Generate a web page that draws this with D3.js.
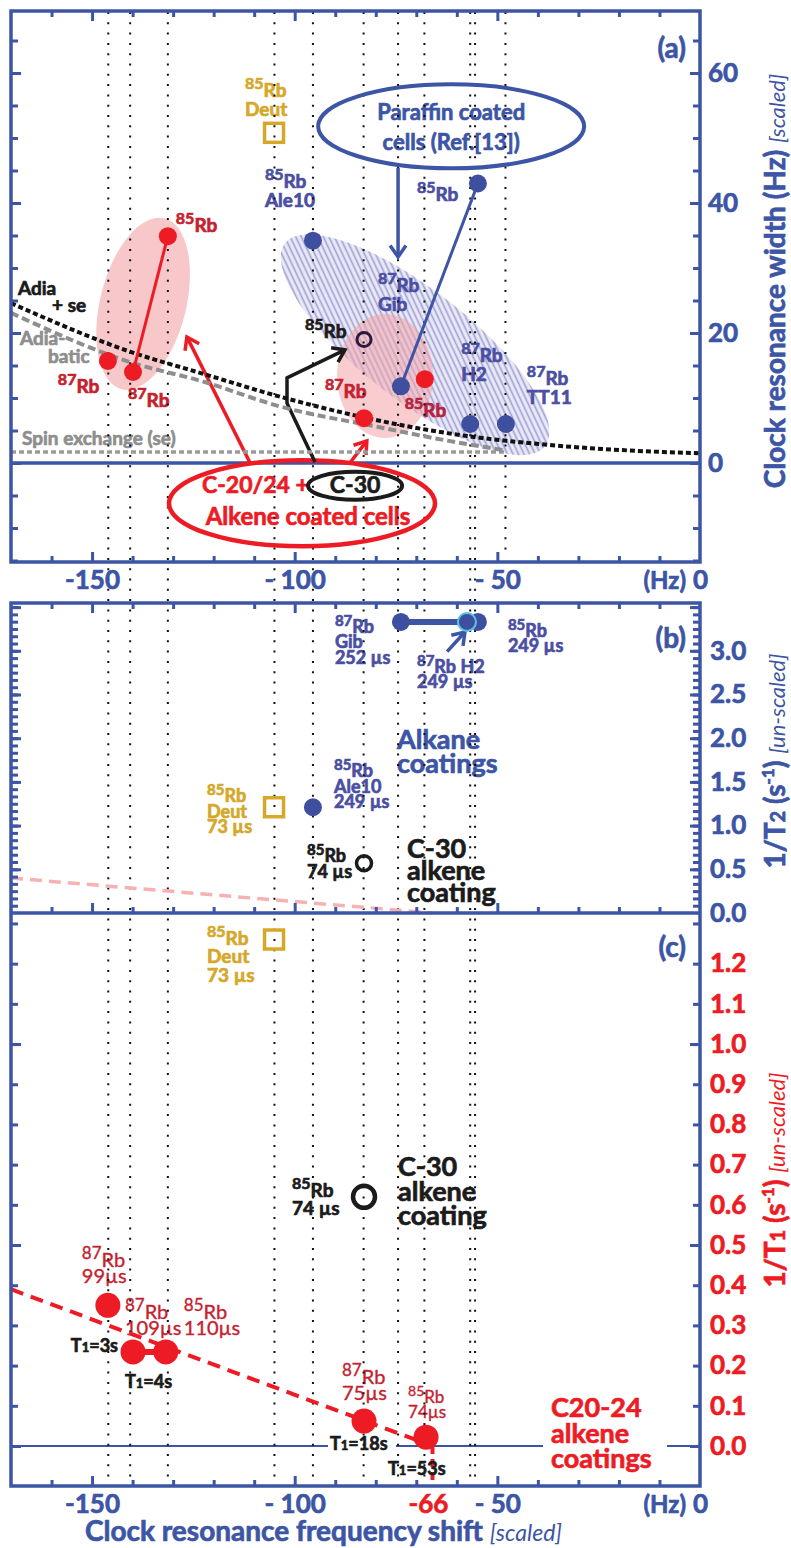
<!DOCTYPE html>
<html><head><meta charset="utf-8">
<script src="https://cdn.jsdelivr.net/npm/d3@7"></script>
<style>
body{margin:0;background:#fff;}
svg{display:block;font-family:Lato,"Open Sans",sans-serif;}
</style></head><body>
<svg id="chart" width="791" height="1548"></svg>
<script>
// ---------- data ----------
// x: clock resonance frequency shift (Hz, scaled)
const xMinorTicks = [-160, -140, -130, -120, -110, -90, -80, -70, -60, -40, -30, -20, -10];
const xMajorTicks = [-150, -100, -50];
const xTickVals   = [-150, -100, -50, 0];
const xTickText   = ['-150', '- 100', '- 50', '0'];
const refLinesAll = [-146, -140.6, -131.3, -105, -95.5, -83, -74.5, -68, -56.7, -55.5];
const refLinesA   = [-48];

// panel (a): clock resonance width (Hz)
const aRedHz     = [-131.3, -146.1, -139.9, -82.9, -67.9];
const aRedWidth  = [34.9, 15.7, 14.0, 6.9, 12.9];
const aBlueHz    = [-95.5, -73.8, -54.8, -56.7, -47.9];
const aBlueWidth = [34.2, 11.8, 43.0, 6.0, 6.0];
const aDeut = [-105.1, 50.8];
const aC30  = [-82.9, 19.0];
const adiaSe   = [[-170, 24.6], [-140.5, 17.1], [-123, 13.8], [-103.6, 10.2], [-82.8, 7.0], [-62.4, 4.6], [-37.7, 2.8], [-19.7, 2.0], [0, 1.5]];
const adiabatic = [[-170, 23.1], [-140.5, 15.5], [-123, 12.6], [-103.6, 8.7], [-79, 5.5], [-62, 3.4], [-48.6, 2.0]];
const spinEx   = [[-170, 1.7], [-48, 1.7]];
const aTicks = [-15, -10, -5, 0, 5, 10, 15, 20, 25, 30, 35, 40, 45, 50, 55, 60, 65];
const aMajor = [0, 20, 40, 60];

// panel (b): 1/T2 (s^-1)
const bBlueHz = [-73.8, -54.8, -57.5, -95.5];
const bRate   = [3.33, 3.33, 3.33, 1.21];
const bDeut = [-105.1, 1.21];
const bC30  = [-82.9, 0.57];
const bTrend = [[-170, 0.40], [-66, 0.0]];
const bLabels = [0, 0.5, 1.0, 1.5, 2.0, 2.5, 3.0];

// panel (c): 1/T1 (s^-1)
const cRedHz  = [-146.1, -139.9, -131.8, -82.9, -67.6];
const cRate   = [0.35, 0.234, 0.234, 0.062, 0.022];
const cDeut = [-105.1, 1.26];
const cC30  = [-82.9, 0.62];
const cTrend = [[-170, 0.39], [-66, 0.0]];
const cTicks  = [0, 0.1, 0.2, 0.3, 0.4, 0.5, 0.6, 0.7, 0.8, 0.9, 1.0, 1.1, 1.2, 1.3];
const cLabels = [0, 0.1, 0.2, 0.3, 0.4, 0.5, 0.6, 0.7, 0.8, 0.9, 1.0, 1.1, 1.2];

// ---------- setup ----------
const BLUE = '#3c55a5', RED = '#ed1c24', DRED = '#c4222f', GOLD = '#d5a82a',
      LBLUE = '#4a4fa2', DOT = '#3f4fa0', GRAY = '#8e8e8e', BLK = '#1b1b1b';

const svg = d3.select('#chart');
const x  = d3.scaleLinear().domain([-170, 0]).range([11, 700]);
const ya = d3.scaleLinear().domain([-15.23, 69.54]).range([562, 11]);
const yb = d3.scaleLinear().domain([0, 3.547]).range([913, 603]);
const yc = d3.scaleLinear().domain([-0.0995, 1.326]).range([1486, 913]);

const defs = svg.append('defs');
const pat = defs.append('pattern').attr('id', 'hatch').attr('patternUnits', 'userSpaceOnUse')
  .attr('width', 8).attr('height', 5).attr('patternTransform', 'rotate(27)');
pat.append('rect').attr('width', 8).attr('height', 5).attr('fill', '#ebebf7');
pat.append('line').attr('x1', 0).attr('x2', 8).attr('y1', 2.5).attr('y2', 2.5)
  .attr('stroke', '#a0a0d6').attr('stroke-width', 1.7);

const gBg = svg.append('g'), gTxt = svg.append('g'), gGrid = svg.append('g'),
      gLn = svg.append('g'), gPt = svg.append('g'), gAx = svg.append('g');

// ---------- shaded regions ----------
gBg.append('ellipse').attr('cx', 0).attr('cy', 0).attr('rx', 165).attr('ry', 55)
  .attr('transform', `translate(${x(-70.3)},${ya(18.2)}) rotate(38)`).attr('fill', 'url(#hatch)');
gBg.append('ellipse').attr('rx', 43).attr('ry', 88)
  .attr('transform', `translate(${x(-137.4)},${ya(24.5)}) rotate(14)`).attr('fill', '#f4a4a8').attr('opacity', 0.62);
gBg.append('ellipse').attr('cx', x(-77.7)).attr('cy', ya(13.4)).attr('rx', 48).attr('ry', 62)
  .attr('fill', '#f4a4a8').attr('opacity', 0.55);

// zero lines
gBg.append('line').attr('x1', 11).attr('x2', 700).attr('y1', ya(0)).attr('y2', ya(0))
  .attr('stroke', BLUE).attr('stroke-width', 3.5);
gBg.append('line').attr('x1', 11).attr('x2', 700).attr('y1', yc(0)).attr('y2', yc(0))
  .attr('stroke', BLUE).attr('stroke-width', 2);
gBg.append('line').attr('x1', x(-66)).attr('x2', x(-66)).attr('y1', yc(0)).attr('y2', 1484)
  .attr('stroke', RED).attr('stroke-width', 4).attr('stroke-dasharray', '8,5');

// ---------- helpers ----------
function lab(px, py, mass, el, lines, o) {
  const fs = o.fs || 19, sup = o.sup || 16, lh = o.lh || 19, sh = o.sh || 8;
  const t = gTxt.append('text').attr('x', px).attr('y', py).attr('fill', o.color)
    .attr('font-size', fs).attr('font-weight', o.weight || 700);
  t.append('tspan').attr('font-size', sup).attr('dy', -sh).text(mass);
  t.append('tspan').attr('dy', sh).text(el);
  lines.forEach(s => t.append('tspan').attr('x', px).attr('dy', lh).text(s));
}
function block(px, py, lines, lh, o) {
  const t = gTxt.append('text').attr('x', px).attr('y', py).attr('fill', o.color)
    .attr('font-size', o.fs).attr('font-weight', o.weight || 700).attr('text-anchor', o.anchor || 'start');
  lines.forEach((s, i) => t.append('tspan').attr('x', px).attr('dy', i ? lh : 0).text(s));
  return t;
}
function t1(px, py, rest, anchor) {
  const t = gTxt.append('text').attr('x', px).attr('y', py).attr('fill', BLK)
    .attr('font-size', 18).attr('font-weight', 700).attr('text-anchor', anchor || 'start');
  t.append('tspan').text('T');
  t.append('tspan').attr('font-size', 13).text('1');
  t.append('tspan').text(rest);
  return t;
}
function arrow(pts, color, w) {
  const p = pts.map(d => [x(d[0]), d[2](d[1])]);
  gLn.append('path').attr('d', d3.line()(p)).attr('fill', 'none').attr('stroke', color)
    .attr('stroke-width', w).attr('stroke-linejoin', 'miter');
  const [a, b] = [p[p.length - 2], p[p.length - 1]];
  const ang = Math.atan2(b[1] - a[1], b[0] - a[0]), L = 14, s = 0.6;
  const h = [[b[0] - L * Math.cos(ang - s), b[1] - L * Math.sin(ang - s)], b,
             [b[0] - L * Math.cos(ang + s), b[1] - L * Math.sin(ang + s)]];
  gLn.append('path').attr('d', d3.line()(h)).attr('fill', 'none').attr('stroke', color)
    .attr('stroke-width', w);
}
const curve = (ys, pts) => d3.line().x(d => x(d[0])).y(d => ys(d[1])).curve(d3.curveMonotoneX)(pts);

// ---------- panel (a) texts ----------
lab(x(aDeut[0]) - 29, ya(aDeut[1]) - 36, '85', 'Rb', ['Deut'], {color: GOLD});
lab(x(aBlueHz[0]) - 48, ya(aBlueWidth[0]) - 53, '85', 'Rb', ['Ale10'], {color: LBLUE});
lab(x(aRedHz[0]) + 8, ya(aRedWidth[0]) - 4, '85', 'Rb', [], {color: DRED});
lab(x(aRedHz[1]) - 50, ya(aRedWidth[1]) + 32, '87', 'Rb', [], {color: DRED});
lab(x(aRedHz[2]) - 5, ya(aRedWidth[2]) + 35, '87', 'Rb', [], {color: DRED});
lab(x(aC30[0]) - 59, ya(aC30[1]) - 2, '85', 'Rb', [], {color: BLK});
lab(x(aRedHz[3]) - 39, ya(aRedWidth[3]) - 20, '87', 'Rb', [], {color: DRED});
lab(x(aBlueHz[1]) - 23, ya(aBlueWidth[1]) - 94, '87', 'Rb', ['Gib'], {color: LBLUE});
lab(x(aRedHz[4]) - 20, ya(aRedWidth[4]) + 38, '85', 'Rb', [], {color: '#b5243c'});
lab(x(aBlueHz[3]) - 9, ya(aBlueWidth[3]) - 62, '87', 'Rb', ['H2'], {color: LBLUE});
lab(x(aBlueHz[4]) + 21, ya(aBlueWidth[4]) - 39, '87', 'Rb', ['TT11'], {color: LBLUE});
lab(x(aBlueHz[2]) - 61, ya(aBlueWidth[2]) + 17, '85', 'Rb', [], {color: LBLUE});

block(18, 295, ['Adia'], 0, {fs: 19, color: BLK});
block(52, 312, ['+ se'], 0, {fs: 19, color: BLK});
block(20, 345, ['Adia-'], 0, {fs: 19, color: GRAY});
block(48, 363, ['batic'], 0, {fs: 19, color: GRAY});
block(22, 445, ['Spin exchange (se)'], 0, {fs: 19, color: GRAY});

// paraffin annotation
const pcx = x(-61.4), pcy = ya(51.8);
gLn.append('ellipse').attr('cx', pcx).attr('cy', pcy).attr('rx', 133).attr('ry', 42)
  .attr('fill', 'none').attr('stroke', BLUE).attr('stroke-width', 4);
block(pcx, pcy - 6, ['Paraffin coated', 'cells (Ref.[13])'], 30, {fs: 22, color: BLUE, anchor: 'middle'});
arrow([[-74.5, 45.4, ya], [-74.5, 31.7, ya]], BLUE, 3.5);

// alkene annotation
const rcx = x(-98.2), rcy = ya(-6.2);
gLn.append('ellipse').attr('cx', rcx).attr('cy', rcy).attr('rx', 133).attr('ry', 43)
  .attr('fill', 'none').attr('stroke', RED).attr('stroke-width', 4.5);
gLn.append('ellipse').attr('cx', x(-85.1)).attr('cy', ya(-3.5)).attr('rx', 47).attr('ry', 14)
  .attr('fill', 'none').attr('stroke', BLK).attr('stroke-width', 4);
block(rcx - 100, rcy - 10, ['C-20/24 +'], 0, {fs: 23, color: RED});
block(x(-85.1), rcy - 10, ['C-30'], 0, {fs: 23, color: BLK, anchor: 'middle'});
block(rcx + 6, rcy + 22, ['Alkene coated cells'], 0, {fs: 24, color: RED, anchor: 'middle'});
arrow([[-111, 0, ya], [-126.6, 19.4, ya]], RED, 3.5);
arrow([[-86.4, 0, ya], [-82.2, 3.4, ya]], RED, 3.5);
arrow([[-95, 0.15, ya], [-101.9, 9.2, ya], [-101.9, 13.1, ya], [-87.6, 17.4, ya]], BLK, 3.5);

// ---------- panel (b) texts ----------
const bo = {fs: 18, sup: 15, lh: 15.5, sh: 7};
lab(x(bBlueHz[0]) - 66, yb(bRate[0]) + 11, '87', 'Rb', ['Gib', '252 µs'], {...bo, color: LBLUE});
lab(x(bBlueHz[1]) + 30, yb(bRate[1]) + 15, '85', 'Rb', ['249 µs'], {...bo, color: LBLUE});
lab(x(bBlueHz[2]) - 50, yb(bRate[2]) + 51, '87', 'Rb H2', ['249 µs'], {...bo, color: LBLUE});
lab(x(bBlueHz[3]) + 21, yb(bRate[3]) - 30, '85', 'Rb', ['Ale10', '249 µs'], {...bo, color: LBLUE});
lab(x(bDeut[0]) - 67, yb(bDeut[1]) - 5, '85', 'Rb', ['Deut', '73 µs'], {...bo, color: GOLD});
lab(x(bC30[0]) - 57, yb(bC30[1]) - 1, '85', 'Rb', ['74 µs'], {...bo, color: BLK});
block(397, 749, ['Alkane', 'coatings'], 24, {fs: 27, color: BLUE});
block(407, 858, ['C-30', 'alkene', 'coating'], 22, {fs: 27, color: BLK});
arrow([[-62.4, 2.99, yb], [-58.0, 3.215, yb]], BLUE, 3.5);

// ---------- panel (c) texts ----------
lab(x(cDeut[0]) - 67, yc(cDeut[1]) + 5, '85', 'Rb', ['Deut', '73 µs'], {color: GOLD, lh: 18.5});
lab(x(cC30[0]) - 72, yc(cC30[1]), '85', 'Rb', ['74 µs'], {color: BLK, lh: 18});
const co = {color: DRED, fs: 20, sup: 17, lh: 16, weight: 400};
lab(x(cRedHz[0]) - 26, yc(cRate[0]) - 38, '87', 'Rb', ['99µs'], co);
lab(x(cRedHz[1]) - 8, yc(cRate[1]) - 33, '87', 'Rb', ['109µs'], co);
lab(x(cRedHz[2]) + 18, yc(cRate[2]) - 33, '85', 'Rb', ['110µs'], co);
lab(x(cRedHz[3]) - 22, yc(cRate[3]) - 37, '87', 'Rb', ['75µs'], co);
lab(x(cRedHz[4]) - 18, yc(cRate[4]) - 34, '85', 'Rb', ['74µs'], {...co, fs: 17, sup: 14, lh: 15, sh: 7});
t1(x(cRedHz[1]) - 15, yc(cRate[1]), '=3s', 'end');
t1(x(cRedHz[1]) - 8, yc(cRate[1]) + 36, '=4s');
gTxt.append('rect').attr('x', x(cRedHz[3]) - 36).attr('y', yc(0) - 6).attr('width', 68).attr('height', 12).attr('fill', '#fff');
t1(x(cRedHz[3]) - 34, yc(cRate[3]) + 29, '=18s');
t1(x(cRedHz[4]) - 38, yc(cRate[4]) + 38, '=53s');
block(398, 1176, ['C-30', 'alkene', 'coating'], 24.5, {fs: 27, color: BLK});
gTxt.append('rect').attr('x', 543).attr('y', yc(0) - 6).attr('width', 124).attr('height', 12).attr('fill', '#fff');
block(551, 1417, ['C20-24', 'alkene', 'coatings'], 25.5, {fs: 27, color: RED});

// panel letters
block(686, 58, ['(a)'], 0, {fs: 28, color: BLUE, anchor: 'end'});
block(686, 648, ['(b)'], 0, {fs: 28, color: BLUE, anchor: 'end'});
block(686, 957, ['(c)'], 0, {fs: 28, color: BLUE, anchor: 'end'});

// ---------- dotted reference lines ----------
refLinesAll.forEach(v => gGrid.append('line').attr('x1', x(v)).attr('x2', x(v)).attr('y1', 12).attr('y2', 1486)
  .attr('stroke', '#111').attr('stroke-width', 2).attr('stroke-dasharray', '2,8.3'));
refLinesA.forEach(v => gGrid.append('line').attr('x1', x(v)).attr('x2', x(v)).attr('y1', 12).attr('y2', 556)
  .attr('stroke', '#111').attr('stroke-width', 2).attr('stroke-dasharray', '2,8.3'));

// ---------- curves and trend lines ----------
gLn.append('path').attr('d', curve(ya, spinEx)).attr('fill', 'none').attr('stroke', '#9a9a9a')
  .attr('stroke-width', 3.5).attr('stroke-dasharray', '5,3');
gLn.append('path').attr('d', curve(ya, adiabatic)).attr('fill', 'none').attr('stroke', GRAY)
  .attr('stroke-width', 4).attr('stroke-dasharray', '8,4');
gLn.append('path').attr('d', curve(ya, adiaSe)).attr('fill', 'none').attr('stroke', '#111')
  .attr('stroke-width', 4).attr('stroke-dasharray', '5,3');
gLn.append('path').attr('d', curve(yb, bTrend)).attr('fill', 'none').attr('stroke', '#f6b2b2')
  .attr('stroke-width', 3.5).attr('stroke-dasharray', '12,7');
gLn.append('path').attr('d', curve(yc, cTrend)).attr('fill', 'none').attr('stroke', RED)
  .attr('stroke-width', 4).attr('stroke-dasharray', '13,8');

// connecting lines
const seg = (x1, y1, x2, y2, c, w) => gLn.append('line').attr('x1', x1).attr('y1', y1)
  .attr('x2', x2).attr('y2', y2).attr('stroke', c).attr('stroke-width', w);
seg(x(aRedHz[2]), ya(aRedWidth[2]), x(aRedHz[0]), ya(aRedWidth[0]), RED, 3);
seg(x(aBlueHz[1]), ya(aBlueWidth[1]), x(aBlueHz[2]), ya(aBlueWidth[2]), BLUE, 3);
seg(x(bBlueHz[0]), yb(bRate[0]), x(bBlueHz[1]), yb(bRate[1]), BLUE, 6);
seg(x(cRedHz[1]), yc(cRate[1]), x(cRedHz[2]), yc(cRate[2]), RED, 6);

// ---------- points ----------
const dots = (hz, vals, ys, r, fill) => gPt.append('g').selectAll('circle')
  .data(hz.map((h, i) => [h, vals[i]])).join('circle')
  .attr('cx', d => x(d[0])).attr('cy', d => ys(d[1])).attr('r', r).attr('fill', fill);
dots(aRedHz, aRedWidth, ya, 9, RED);
dots(aBlueHz, aBlueWidth, ya, 9, DOT);
dots(bBlueHz.slice(0, 2).concat(bBlueHz.slice(3)), bRate.slice(0, 2).concat(bRate.slice(3)), yb, 9, DOT);
gPt.append('circle').attr('cx', x(bBlueHz[2])).attr('cy', yb(bRate[2])).attr('r', 9)
  .attr('fill', DOT).attr('stroke', '#58c5e4').attr('stroke-width', 2);
dots(cRedHz, cRate, yc, 12.5, RED);

const square = (d, ys) => gPt.append('rect').attr('x', x(d[0]) - 9.5).attr('y', ys(d[1]) - 9.5)
  .attr('width', 19).attr('height', 19).attr('fill', 'none').attr('stroke', GOLD).attr('stroke-width', 3.5);
square(aDeut, ya); square(bDeut, yb); square(cDeut, yc);
const ring = (d, ys, r, w, c) => gPt.append('circle').attr('cx', x(d[0])).attr('cy', ys(d[1]))
  .attr('r', r).attr('fill', 'none').attr('stroke', c).attr('stroke-width', w);
ring(aC30, ya, 7, 3, '#2c1a3e'); ring(bC30, yb, 7.5, 3.5, BLK); ring(cC30, yc, 11, 4.5, BLK);

// ---------- axes ----------
function frame(x0, y0, x1, y1) {
  gAx.append('rect').attr('x', x0).attr('y', y0).attr('width', x1 - x0).attr('height', y1 - y0)
    .attr('fill', 'none').attr('stroke', BLUE).attr('stroke-width', 3.5);
}
frame(11, 11, 700, 562);
frame(11, 603, 700, 1486);
gAx.append('line').attr('x1', 11).attr('x2', 700).attr('y1', 913).attr('y2', 913)
  .attr('stroke', BLUE).attr('stroke-width', 3.5);

function ticks(axis, tr) {
  const g = gAx.append('g').attr('transform', tr).call(axis.tickFormat('').tickSizeOuter(0));
  g.select('.domain').remove();
  g.selectAll('line').attr('stroke', BLUE).attr('stroke-width', 3);
}
function xTicks(yPos, up) {
  const mk = () => up ? d3.axisTop(x) : d3.axisBottom(x);
  ticks(mk().tickValues(xMinorTicks).tickSize(6), `translate(0,${yPos})`);
  ticks(mk().tickValues(xMajorTicks).tickSize(10), `translate(0,${yPos})`);
}
xTicks(11, false); xTicks(562, true); xTicks(603, false); xTicks(913, true); xTicks(1486, true);

function yTicks(ys, minor, major) {
  ticks(d3.axisRight(ys).tickValues(minor).tickSize(7), 'translate(11,0)');
  ticks(d3.axisRight(ys).tickValues(major).tickSize(10), 'translate(11,0)');
  ticks(d3.axisLeft(ys).tickValues(minor).tickSize(7), 'translate(700,0)');
  ticks(d3.axisLeft(ys).tickValues(major).tickSize(10), 'translate(700,0)');
}
yTicks(ya, aTicks, aMajor);
yTicks(yb, d3.range(1, 43).map(k => k / 12), [0.5, 1.0, 1.5, 2.0, 2.5, 3.0, 3.5]);
yTicks(yc, cTicks, [0, 0.5, 1.0]);

// tick labels
function labels(axis, tr, color) {
  const g = gAx.append('g').attr('transform', tr).call(axis.tickSize(0));
  g.select('.domain').remove();
  g.selectAll('text').attr('fill', color).attr('font-size', 26).attr('font-weight', 700)
    .attr('font-family', 'Lato, sans-serif');
}
labels(d3.axisRight(ya).tickValues(aMajor).tickPadding(8).tickFormat(d3.format('d')), 'translate(700,0)', BLUE);
labels(d3.axisRight(yb).tickValues(bLabels).tickPadding(10).tickFormat(d3.format('.1f')), 'translate(700,0)', BLUE);
labels(d3.axisRight(yc).tickValues(cLabels).tickPadding(10).tickFormat(d3.format('.1f')), 'translate(700,0)', RED);
const xFmt = v => xTickText[xTickVals.indexOf(v)];
labels(d3.axisBottom(x).tickValues(xTickVals).tickPadding(8.5).tickFormat(xFmt), 'translate(0,562)', BLUE);
labels(d3.axisBottom(x).tickValues(xTickVals).tickPadding(8.5).tickFormat(xFmt), 'translate(0,1486)', BLUE);
block(686, 589, ['(Hz)'], 0, {fs: 24, color: BLUE, anchor: 'end'});
block(686, 1513, ['(Hz)'], 0, {fs: 24, color: BLUE, anchor: 'end'});
block(x(-66) - 4, 1513, ['-66'], 0, {fs: 26, color: RED, anchor: 'middle'});

// ---------- axis titles ----------
function yTitle(cx, cy, color, build) {
  const t = gAx.append('text').attr('transform', `translate(${cx},${cy}) rotate(-90)`)
    .attr('text-anchor', 'middle').attr('fill', color).attr('font-size', 28).attr('font-weight', 700);
  build(t);
}
yTitle(785, 281, BLUE, t => {
  t.append('tspan').text('Clock resonance width (Hz) ');
  t.append('tspan').attr('font-size', 22).attr('font-weight', 400).attr('font-style', 'italic').text('[scaled]');
});
const rateTitle = (sub) => t => {
  t.append('tspan').text('1/T');
  t.append('tspan').attr('font-size', 20).text(sub);
  t.append('tspan').text(' (s');
  t.append('tspan').attr('font-size', 17).attr('dy', -11).text('-1');
  t.append('tspan').attr('dy', 11).text(') ');
  t.append('tspan').attr('font-size', 22).attr('font-weight', 400).attr('font-style', 'italic').text('[un-scaled]');
};
yTitle(785, 761, BLUE, rateTitle('2'));
yTitle(785, 1180, RED, rateTitle('1'));

const xt = gAx.append('text').attr('x', 85).attr('y', 1541).attr('fill', BLUE)
  .attr('font-size', 28).attr('font-weight', 700);
xt.append('tspan').text('Clock resonance frequency shift ');
xt.append('tspan').attr('font-size', 23).attr('font-weight', 400).attr('font-style', 'italic').text('[scaled]');

// heavier strokes on text to get closer to the original's heavy bold face
svg.selectAll('text').each(function () {
  const t = d3.select(this);
  const w = t.attr('font-weight') == 400 ? 0.35 : 0.7;
  t.attr('stroke', t.attr('fill')).attr('stroke-width', w);
});
svg.selectAll('tspan[font-style="italic"]').attr('stroke', 'none');
</script>
</body></html>
